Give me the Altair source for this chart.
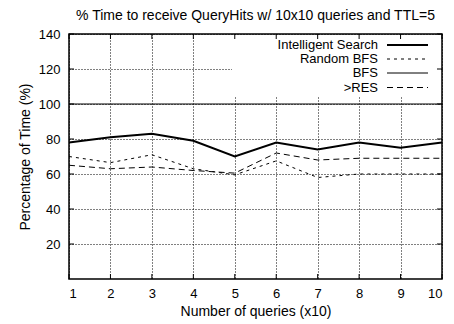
import altair as alt
import pandas as pd

queries = [1, 2, 3, 4, 5, 6, 7, 8, 9, 10]
intelligent = [78, 81, 83, 79, 70, 78, 74, 78, 75, 78]
random_bfs = [70, 66.5, 71, 63, 59.5, 67.5, 58, 60, 60, 60]
bfs = [100, 100, 100, 100, 100, 100, 100, 100, 100, 100]
res = [65, 63, 64, 62, 60.5, 72, 68, 69, 69, 69]

series_names = ["Intelligent Search", "Random BFS", "BFS", ">RES"]
series_vals = [intelligent, random_bfs, bfs, res]
y_ticks = [20, 40, 60, 80, 100, 120, 140]

W, H = 373, 245
FONT = "Liberation Sans"
FS = 13
TFS = 14
styles = {
    "Intelligent Search": dict(strokeWidth=2),
    "Random BFS": dict(strokeWidth=1, strokeDash=[3, 4]),
    "BFS": dict(strokeWidth=1),
    ">RES": dict(strokeWidth=1, strokeDash=[6, 4]),
}

rows = []
for name, vals in zip(series_names, series_vals):
    for q, v in zip(queries, vals):
        rows.append({"q": q, "v": v, "s": name})
df = pd.DataFrame(rows)

xs = alt.Scale(domain=[1, 10], nice=False, zero=False)
ys = alt.Scale(domain=[0, 140], nice=False)

xax = alt.Axis(values=queries, format="d", ticks=False, domain=False, grid=True,
               gridDash=[1, 2], gridColor="#000", gridOpacity=1, labelPadding=8,
               title="Number of queries (x10)", titlePadding=4)
yax = alt.Axis(values=y_ticks, ticks=False, domain=False, grid=True,
               gridDash=[1, 2], gridColor="#000", gridOpacity=1, labelPadding=9,
               title="Percentage of Time (%)", titlePadding=6)

base = alt.Chart(df)

axes_layer = base.mark_point(opacity=0).encode(
    x=alt.X("q:Q", scale=xs, axis=xax),
    y=alt.Y("v:Q", scale=ys, axis=yax),
)

legend_bg = alt.Chart(pd.DataFrame({"a": [0]})).mark_rect(color="white").encode(
    x=alt.value(163), x2=alt.value(W - 1), y=alt.value(1), y2=alt.value(62)
)

line_layers = []
for name in series_names:
    line_layers.append(
        alt.Chart(df[df.s == name]).mark_line(color="black", **styles[name]).encode(
            x=alt.X("q:Q", scale=xs), y=alt.Y("v:Q", scale=ys)
        )
    )

xt = pd.DataFrame({"q": queries})
yt = pd.DataFrame({"v": y_ticks})
tick_layers = [
    alt.Chart(xt).mark_rule(color="black").encode(
        x=alt.X("q:Q", scale=xs), y=alt.value(H), y2=alt.value(H - 5)),
    alt.Chart(xt).mark_rule(color="black").encode(
        x=alt.X("q:Q", scale=xs), y=alt.value(0), y2=alt.value(5)),
    alt.Chart(yt).mark_rule(color="black").encode(
        y=alt.Y("v:Q", scale=ys), x=alt.value(0), x2=alt.value(5)),
    alt.Chart(yt).mark_rule(color="black").encode(
        y=alt.Y("v:Q", scale=ys), x=alt.value(W), x2=alt.value(W - 5)),
]

leg_layers = []
leg_y = [11, 25, 39, 53.5]
for name, yy in zip(series_names, leg_y):
    one = pd.DataFrame({"t": [name]})
    leg_layers.append(
        alt.Chart(one).mark_text(align="right", baseline="middle", font=FONT,
                                 fontSize=FS, color="black").encode(
            text="t:N", x=alt.value(309), y=alt.value(yy))
    )
    leg_layers.append(
        alt.Chart(one).mark_rule(color="black", **styles[name]).encode(
            x=alt.value(318), x2=alt.value(359), y=alt.value(yy))
    )

chart = alt.layer(axes_layer, legend_bg, *line_layers, *tick_layers, *leg_layers).properties(
    width=W, height=H,
    title=alt.TitleParams("% Time to receive QueryHits w/ 10x10 queries and TTL=5",
                          font=FONT, fontSize=TFS, fontWeight="normal", anchor="middle",
                          offset=5, color="black"),
    autosize=alt.AutoSizeParams(type="none"),
    padding={"left": 61, "top": 26, "right": 4, "bottom": 40},
).configure_view(stroke="black", strokeWidth=1.5).configure_axis(
    labelFont=FONT, labelFontSize=FS, labelColor="black",
    titleFont=FONT, titleFontSize=TFS, titleFontWeight="normal", titleColor="black",
)

chart.save("out.html", embed_options={"renderer": "svg", "actions": False})
